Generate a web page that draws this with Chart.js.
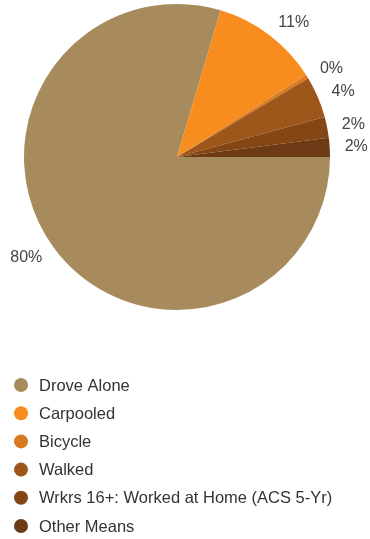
<!DOCTYPE html>
<html>
<head>
<meta charset="utf-8">
<script src="https://cdn.jsdelivr.net/npm/chart.js@4/dist/chart.umd.min.js"></script>
<style>
  html, body { margin: 0; padding: 0; background: #ffffff; }
  #wrap { width: 370px; height: 539px; position: relative; }
</style>
</head>
<body>
<div id="wrap"><canvas id="c" width="370" height="539"></canvas></div>
<script>
const categories = [
  "Drove Alone",
  "Carpooled",
  "Bicycle",
  "Walked",
  "Wrkrs 16+: Worked at Home (ACS 5-Yr)",
  "Other Means"
];
const shares = [79.6, 11.4, 0.4, 4.4, 2.2, 2.0];
const sliceColors = ["#a88b5c", "#f78d1e", "#d97a20", "#9e571b", "#854514", "#6c3a14"];

const FONT = '"Liberation Sans", Arial, sans-serif';

const outsideLabels = {
  id: 'outsideLabels',
  afterDatasetsDraw(chart) {
    const ctx = chart.ctx;
    const meta = chart.getDatasetMeta(0);
    const data = chart.data.datasets[0].data;
    const total = data.reduce((a, b) => a + b, 0);
    ctx.save();
    ctx.font = '16px ' + FONT;
    ctx.fillStyle = '#444444';
    ctx.textBaseline = 'middle';
    meta.data.forEach((arc, i) => {
      const p = arc.getProps(['x', 'y', 'startAngle', 'endAngle', 'outerRadius'], true);
      const mid = (p.startAngle + p.endAngle) / 2;
      const r = p.outerRadius + 15;
      const x = p.x + Math.cos(mid) * r;
      const y = p.y + Math.sin(mid) * r;
      ctx.textAlign = Math.cos(mid) >= 0 ? 'left' : 'right';
      ctx.fillText(Math.round(data[i] / total * 100) + '%', x, y);
    });
    ctx.restore();
  }
};

const listLegend = {
  id: 'listLegend',
  afterDraw(chart) {
    const ctx = chart.ctx;
    const ds = chart.data.datasets[0];
    ctx.save();
    ctx.font = '16.5px ' + FONT;
    ctx.textAlign = 'left';
    ctx.textBaseline = 'middle';
    chart.data.labels.forEach((lab, i) => {
      const y = 385 + i * 28.2;
      ctx.beginPath();
      ctx.arc(21, y, 7, 0, Math.PI * 2);
      ctx.fillStyle = ds.backgroundColor[i];
      ctx.fill();
      ctx.fillStyle = '#333333';
      ctx.fillText(lab, 39, y + 1);
    });
    ctx.restore();
  }
};

new Chart(document.getElementById('c'), {
  type: 'pie',
  data: {
    labels: categories,
    datasets: [{
      data: shares,
      backgroundColor: sliceColors,
      borderWidth: 0
    }]
  },
  options: {
    responsive: false,
    animation: false,
    rotation: 90,
    layout: { padding: { left: 24, right: 40, top: 4, bottom: 229 } },
    plugins: {
      legend: { display: false },
      tooltip: { enabled: false }
    }
  },
  plugins: [outsideLabels, listLegend]
});
</script>
</body>
</html>
